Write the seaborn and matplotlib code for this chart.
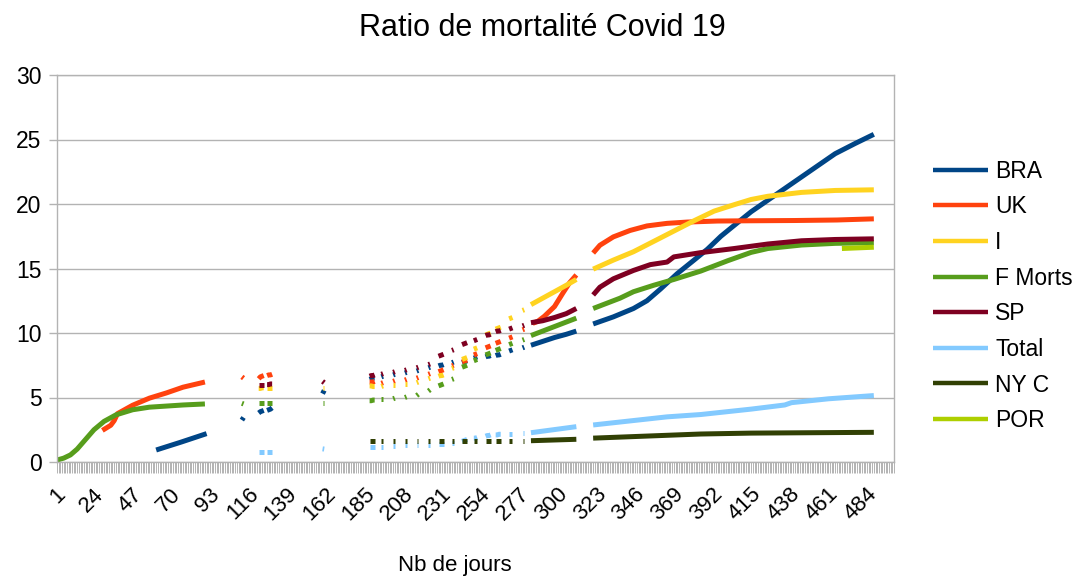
import matplotlib
matplotlib.use("Agg")
import matplotlib.pyplot as plt
from matplotlib.ticker import FixedLocator, MultipleLocator
from matplotlib.transforms import ScaledTranslation
import pandas as pd
import seaborn as sns

# Séries et couleurs (palette LibreOffice)
series = ["BRA", "UK", "I", "F Morts", "SP", "Total", "NY C", "POR"]
couleurs = ["#004586", "#ff420e", "#ffd320", "#579d1c", "#7e0021", "#83caff", "#314004", "#aecf00"]

# Jours des petits blocs isolés (données partielles)
groupes_jours = [[111, 112], [121, 122, 123, 124], [126, 127, 128, 129], [159, 160],
                 [187, 188, 189, 190], [194, 195], [201, 202], [208, 209], [215, 216], [222, 223],
                 [228, 229, 230, 231], [236, 237], [242, 243, 244, 245], [249, 250, 251],
                 [256, 257, 258, 259], [262, 263, 264, 265], [270, 271, 272], [278, 279]]

# Parties continues (None = coupure) + valeurs des blocs isolés
bra_jours = [60, 75, 90, None, 283, 290, 297, 304, 310, None, 320, 332, 344, 352, 360, 370, 380, 388, 396, 404, 414, 424, 434, 444, 454, 464, 476, 487]
bra_ratio = [0.93, 1.55, 2.2, None, 9.05, 9.35, 9.65, 9.9, 10.15, None, 10.7, 11.25, 11.9, 12.5, 13.4, 14.6, 15.65, 16.5, 17.5, 18.35, 19.4, 20.3, 21.2, 22.1, 23.0, 23.9, 24.7, 25.4]
bra_groupes = [[3.25, 3.45], [3.8, 3.9, 3.95, 4.0], [4.0, 4.05, 4.1, 4.2], [5.3, 5.55],
               [6.4, 6.45, 6.5, 6.5], [6.6, 6.65], [6.75, 6.8], [6.9, 6.95], [7.05, 7.1], [7.3, 7.35],
               [7.45, 7.5, 7.5, 7.55], [7.7, 7.75], [7.7, 7.75, 7.8, 7.85], [8.05, 8.1, 8.15],
               [8.15, 8.2, 8.2, 8.25], [8.25, 8.3, 8.3, 8.35], [8.6, 8.65, 8.7], [8.85, 8.9]]

uk_jours = [28, 33, 35, 37, 46, 56, 66, 76, 89, None, 284, 287, 291, 297, 302, 306, 310, None, 320, 324, 332, 342, 352, 364, 376, 394, 414, 440, 465, 487]
uk_ratio = [2.45, 2.85, 3.2, 3.75, 4.4, 4.95, 5.35, 5.8, 6.2, None, 10.75, 10.9, 11.3, 12.05, 13.1, 13.9, 14.5, None, 16.2, 16.8, 17.45, 17.95, 18.3, 18.5, 18.6, 18.68, 18.7, 18.72, 18.76, 18.85]
uk_groupes = [[6.6, 6.5], [6.45, 6.6, 6.65, 6.7], [6.7, 6.75, 6.75, 6.8], None,
              [6.2, 6.2, 6.2, 6.25], [6.1, 6.15], [6.25, 6.3], [6.35, 6.4], [6.5, 6.55], [6.8, 6.85],
              [7.0, 7.05, 7.1, 7.15], [7.45, 7.5], [7.75, 7.8, 7.85, 7.9], [8.3, 8.35, 8.4],
              [8.85, 8.9, 8.95, 9.0], [9.2, 9.25, 9.3, 9.35], [9.6, 9.65, 9.7], [10.25, 10.3]]

i_jours = [283, 290, 297, 304, 310, None, 320, 332, 344, 356, 368, 380, 392, 404, 414, 424, 444, 464, 487]
i_ratio = [12.2, 12.7, 13.2, 13.7, 14.15, None, 14.95, 15.65, 16.3, 17.1, 17.9, 18.7, 19.45, 19.95, 20.35, 20.6, 20.9, 21.05, 21.1]
i_groupes = [None, [5.7, 5.7, 5.75, 5.75], [5.75, 5.75, 5.75, 5.75], [5.75, 5.75],
             [5.9, 5.9, 5.85, 5.85], [5.85, 5.9], [5.95, 5.95], [6.05, 6.05], [6.15, 6.2], [6.45, 6.5],
             [6.65, 6.7, 6.7, 6.75], [7.25, 7.3], [7.95, 8.0, 8.05, 8.1], [8.75, 8.8, 8.85],
             [9.85, 9.9, 9.95, 10.0], [10.3, 10.35, 10.4, 10.45], [11.1, 11.15, 11.2], [11.75, 11.8]]

f_jours = [1, 5, 9, 13, 17, 23, 29, 36, 46, 56, 76, 89, None, 283, 290, 297, 304, 310, None, 320, 324, 328, 336, 344, 356, 368, 384, 400, 414, 424, 444, 464, 487]
f_ratio = [0.15, 0.3, 0.55, 1.0, 1.6, 2.5, 3.15, 3.65, 4.05, 4.25, 4.42, 4.5, None, 9.8, 10.15, 10.5, 10.85, 11.15, None, 11.9, 12.1, 12.3, 12.7, 13.2, 13.7, 14.15, 14.8, 15.6, 16.25, 16.55, 16.82, 16.95, 17.0]
f_groupes = [[4.55, 4.5], [4.55, 4.55, 4.55, 4.55], [4.55, 4.55, 4.55, 4.55], [4.6, 4.6],
             [4.75, 4.75, 4.8, 4.8], [4.85, 4.85], [4.9, 4.95], [5.0, 5.05], [5.15, 5.25], [5.5, 5.6],
             [5.9, 5.95, 6.0, 6.05], [6.4, 6.45], [7.35, 7.4, 7.45, 7.5], [7.85, 7.9, 7.95],
             [8.3, 8.35, 8.4, 8.45], [8.65, 8.7, 8.75, 8.8], [9.1, 9.15, 9.2], [9.45, 9.5]]

sp_jours = [283, 290, 297, 304, 310, None, 320, 324, 332, 344, 354, 364, 368, 384, 404, 424, 444, 464, 487]
sp_ratio = [10.8, 10.95, 11.2, 11.5, 11.9, None, 12.95, 13.55, 14.2, 14.85, 15.3, 15.5, 15.9, 16.23, 16.55, 16.9, 17.15, 17.25, 17.3]
sp_groupes = [None, [6.0, 6.0, 6.0, 6.0], [6.0, 6.0, 6.05, 6.05], [6.25, 6.15],
              [6.65, 6.7, 6.7, 6.75], [6.8, 6.85], [6.95, 7.0], [7.1, 7.15], [7.3, 7.35], [7.55, 7.6],
              [8.2, 8.25, 8.3, 8.35], [8.65, 8.7], [9.1, 9.15, 9.2, 9.25], [9.4, 9.45, 9.5],
              [9.8, 9.85, 9.85, 9.9], [10.1, 10.15, 10.15, 10.2], [10.3, 10.35, 10.4], [10.55, 10.6]]

tot_jours = [283, 310, None, 320, 364, 384, 414, 434, 438, 460, 487]
tot_ratio = [2.27, 2.74, None, 2.87, 3.5, 3.68, 4.1, 4.42, 4.6, 4.9, 5.15]
tot_groupes = [None, [0.78, 0.78, 0.78, 0.78], [0.78, 0.78, 0.78, 0.78], [1.02, 1.0],
               [1.2, 1.2, 1.2, 1.2], [1.2, 1.2], [1.25, 1.25], [1.3, 1.3], [1.3, 1.3], [1.35, 1.35],
               [1.4, 1.4, 1.4, 1.4], [1.45, 1.45], [1.6, 1.65, 1.7, 1.75], [1.85, 1.85, 1.9],
               [2.0, 2.05, 2.05, 2.1], [2.1, 2.1, 2.15, 2.15], [2.2, 2.2, 2.2], [2.25, 2.25]]

nyc_jours = [283, 310, None, 320, 350, 384, 414, 450, 487]
nyc_ratio = [1.65, 1.76, None, 1.85, 2.0, 2.17, 2.24, 2.27, 2.3]
nyc_groupes = [None, None, None, None,
               [1.62, 1.62, 1.62, 1.62], [1.6, 1.6], [1.6, 1.6], [1.6, 1.6], [1.6, 1.6], [1.6, 1.6],
               [1.62, 1.62, 1.62, 1.62], [1.62, 1.62], [1.62, 1.62, 1.62, 1.62], [1.62, 1.62, 1.62],
               [1.62, 1.62, 1.62, 1.62], [1.62, 1.62, 1.62, 1.62], [1.63, 1.63, 1.63], [1.64, 1.64]]

por_jours = [468, 487]
por_ratio = [16.55, 16.65]
por_groupes = [None] * len(groupes_jours)

donnees = [
    ("BRA", bra_jours, bra_ratio, bra_groupes),
    ("UK", uk_jours, uk_ratio, uk_groupes),
    ("I", i_jours, i_ratio, i_groupes),
    ("F Morts", f_jours, f_ratio, f_groupes),
    ("SP", sp_jours, sp_ratio, sp_groupes),
    ("Total", tot_jours, tot_ratio, tot_groupes),
    ("NY C", nyc_jours, nyc_ratio, nyc_groupes),
    ("POR", por_jours, por_ratio, por_groupes),
]


# Découpe une liste avec des None en morceaux continus
def decouper(jours, ratio):
    morceaux, courant = [], []
    for j, r in zip(jours, ratio):
        if j is None:
            morceaux.append(courant)
            courant = []
        else:
            courant.append((j, r))
    if courant:
        morceaux.append(courant)
    return morceaux


lignes = []
num = 0
for nom, jours, ratio, groupes in donnees:
    morceaux = decouper(jours, ratio)
    for g, vals in zip(groupes_jours, groupes):
        if vals is not None:
            morceaux.append(list(zip(g, vals)))
    for m in morceaux:
        for j, r in m:
            lignes.append({"Jour": j, "Ratio": r, "Serie": nom, "morceau": num})
        num += 1
df = pd.DataFrame(lignes)

sns.set_style("white")
plt.rcParams["font.family"] = ["Liberation Sans", "DejaVu Sans"]
plt.rcParams["text.color"] = "black"

gris = "#b3b3b3"
fig = plt.figure(figsize=(10.76, 5.81), dpi=100)
ax = fig.add_axes([57 / 1076, 1 - 462 / 581, 837 / 1076, 387 / 581])

sns.lineplot(data=df, x="Jour", y="Ratio", hue="Serie", units="morceau", estimator=None,
             hue_order=series, palette=couleurs, linewidth=3.6, solid_capstyle="butt",
             ax=ax, legend=True)

ax.set_xlim(1, 499)
ax.set_ylim(0, 30)
ax.set_yticks(range(0, 31, 5))
ax.xaxis.set_major_locator(FixedLocator(list(range(1, 485, 23))))
ax.xaxis.set_minor_locator(MultipleLocator(1))
ax.set_xticklabels([str(t) for t in range(1, 485, 23)])
ax.grid(axis="y", color=gris, linewidth=1.0)
ax.set_axisbelow(True)
for s in ax.spines.values():
    s.set_color(gris)
    s.set_linewidth(1.0)

ax.tick_params(axis="x", which="both", direction="out", length=7.6, width=0.7, color=gris,
               labelsize=16, labelcolor="black", pad=12, bottom=True)
ax.tick_params(axis="y", direction="out", length=6, width=1, color=gris, labelsize=16.5,
               labelcolor="black", pad=5, left=True)
decalage = ScaledTranslation(5 / 100, -2 / 100, fig.dpi_scale_trans)
for lab in ax.get_xticklabels():
    lab.set_rotation(45)
    lab.set_ha("right")
    lab.set_va("center")
    lab.set_rotation_mode("anchor")
    lab.set_transform(lab.get_transform() + decalage)

ax.set_ylabel("")
ax.set_xlabel("Nb de jours", fontsize=16, color="black")
ax.xaxis.set_label_coords((455 - 57) / 837, -(566 - 462) / 387)
ax.xaxis.label.set_va("center")

fig.text(542 / 1076, 1 - 28 / 581, "Ratio de mortalité Covid 19", ha="center", va="center",
         fontsize=22, color="black")

sns.move_legend(ax, loc="center left", bbox_to_anchor=(922 / 1076, 1 - 296 / 581),
                bbox_transform=fig.transFigure, frameon=False, title=None, fontsize=16.5,
                handlelength=2.4, handletextpad=0.3, labelspacing=0.55, borderpad=0)
for h in ax.get_legend().legend_handles:
    h.set_linewidth(3.2)
for t in ax.get_legend().get_texts():
    t.set_color("black")

fig.savefig("out.png", dpi=100)
